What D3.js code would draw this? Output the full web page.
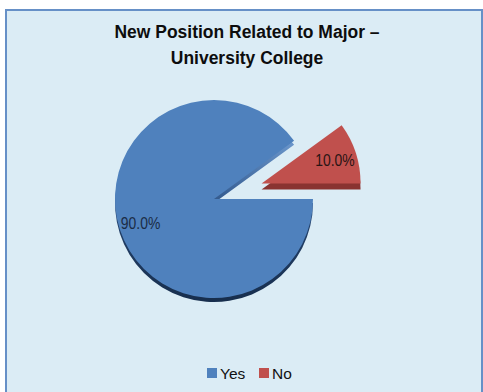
<!DOCTYPE html>
<html>
<head>
<meta charset="utf-8">
<script src="https://cdn.jsdelivr.net/npm/d3@7"></script>
<style>
  html, body { margin: 0; padding: 0; background: #ffffff; }
  svg { display: block; }
</style>
</head>
<body>
<svg id="chart" width="483" height="392"></svg>
<script>
// ---- data ----
const categories = ["Yes", "No"];
const values = [90.0, 10.0];
const labels = ["90.0%", "10.0%"];
const titleLines = ["New Position Related to Major \u2013", "University College"];

// ---- styles ----
const topColors = ["#4f81bd", "#c0504d"];
const sideColors = ["#213f68", "#8a3331"];
const cx = 214, cy = 199, R = 99;
const explode = [0, 50];
const depth = [4, 6];

const svg = d3.select("#chart");

// background / frame
svg.append("rect")
  .attr("x", 6).attr("y", 10).attr("width", 476).attr("height", 392)
  .attr("fill", "#dbecf5")
  .attr("stroke", "#6690c7").attr("stroke-width", 2);

// title (slightly condensed bold)
const title = svg.append("text")
  .attr("transform", "translate(247,0) scale(0.92,1)")
  .attr("text-anchor", "middle")
  .attr("font-family", "'Liberation Sans', Arial, sans-serif")
  .attr("font-weight", "bold")
  .attr("font-size", "19px")
  .attr("fill", "#0d0d0d");
titleLines.forEach((t, i) => {
  title.append("tspan").attr("x", 0).attr("y", 38 + i * 26.5).text(t);
});

// pie
const pie = d3.pie().sort(null)
  .startAngle(Math.PI / 2)
  .endAngle(Math.PI / 2 + 2 * Math.PI);
const arcs = pie(values);
const arc = d3.arc().innerRadius(0).outerRadius(R);
const labelArc = d3.arc().innerRadius(R * 0.78).outerRadius(R * 0.78);

const defs = svg.append("defs");
// gradient in the slice's local coordinates (origin = pie centre)
const sideGrad = defs.append("linearGradient").attr("id", "blueSide")
  .attr("gradientUnits", "userSpaceOnUse")
  .attr("x1", 0).attr("y1", -60).attr("x2", 0).attr("y2", 100);
sideGrad.append("stop").attr("offset", 0).attr("stop-color", "#6a95ca");
sideGrad.append("stop").attr("offset", 0.3).attr("stop-color", "#3b6398");
sideGrad.append("stop").attr("offset", 0.55).attr("stop-color", "#223f67");
sideGrad.append("stop").attr("offset", 1).attr("stop-color", "#172e4d");

const g = svg.append("g").attr("transform", `translate(${cx},${cy})`);

const sliceG = g.selectAll("g.slice").data(arcs).enter().append("g")
  .attr("class", "slice")
  .attr("transform", (d, i) => {
    const mid = (d.startAngle + d.endAngle) / 2;
    return `translate(${Math.sin(mid) * explode[i]},${-Math.cos(mid) * explode[i]})`;
  });

// side (depth)
sliceG.append("path")
  .attr("d", arc)
  .attr("transform", (d, i) => `translate(0,${depth[i]})`)
  .attr("fill", (d, i) => i === 0 ? "url(#blueSide)" : sideColors[i]);

// top face
sliceG.append("path")
  .attr("d", arc)
  .attr("fill", (d, i) => topColors[i]);

// labels (narrow look)
sliceG.append("text")
  .attr("transform", d => `translate(${labelArc.centroid(d)}) scale(0.82,1)`)
  .attr("text-anchor", "middle")
  .attr("dy", "0.36em")
  .attr("font-family", "'Liberation Sans', Arial, sans-serif")
  .attr("font-size", "17px")
  .attr("fill", (d, i) => i === 0 ? "#1b2c45" : "#2a1414")
  .text((d, i) => labels[i]);

// legend
const legend = svg.append("g");
const legX = [207, 259];
categories.forEach((c, i) => {
  legend.append("rect")
    .attr("x", legX[i]).attr("y", 368).attr("width", 10).attr("height", 10)
    .attr("fill", topColors[i]);
  legend.append("text")
    .attr("x", legX[i] + 13).attr("y", 378.5)
    .attr("font-family", "'Liberation Sans', Arial, sans-serif")
    .attr("font-size", "15.5px")
    .attr("fill", "#111")
    .text(c);
});
</script>
</body>
</html>
